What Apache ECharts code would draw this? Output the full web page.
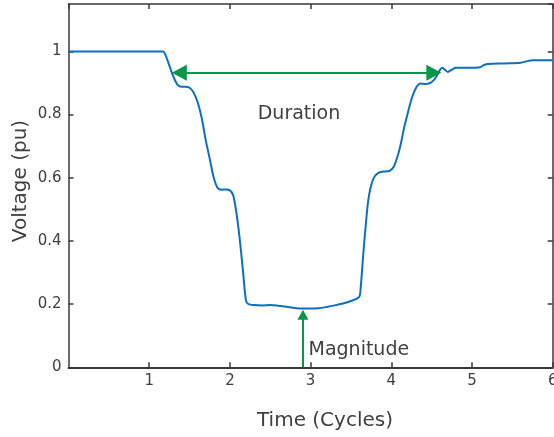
<!DOCTYPE html>
<html>
<head>
<meta charset="utf-8">
<script src="https://cdn.jsdelivr.net/npm/echarts@6/dist/echarts.min.js"></script>
<style>
html,body{margin:0;padding:0;background:#fff;}
#chart{width:554px;height:437px;}
</style>
</head>
<body>
<div id="chart"></div>
<script>
// Time (cycles) and voltage (pu)
var timeCycles = [0, 1.17, 1.2, 1.25, 1.3, 1.35, 1.4, 1.45, 1.5, 1.55, 1.6, 1.65, 1.7, 1.75, 1.8, 1.85, 1.9, 1.95, 2.0, 2.04, 2.08, 2.12, 2.16, 2.2, 2.23, 2.3, 2.4, 2.5, 2.6, 2.7, 2.8, 2.9, 3.0, 3.1, 3.2, 3.3, 3.4, 3.5, 3.6, 3.62, 3.65, 3.68, 3.71, 3.74, 3.78, 3.82, 3.87, 3.93, 3.98, 4.03, 4.08, 4.12, 4.16, 4.2, 4.24, 4.28, 4.32, 4.36, 4.42, 4.48, 4.53, 4.57, 4.6, 4.63, 4.66, 4.7, 4.75, 4.8, 4.9, 5.0, 5.1, 5.15, 5.2, 5.4, 5.6, 5.7, 5.75, 6.0];
var voltagePu = [1.0, 1.0, 0.99, 0.955, 0.92, 0.895, 0.888, 0.888, 0.885, 0.87, 0.84, 0.79, 0.72, 0.66, 0.6, 0.567, 0.562, 0.563, 0.56, 0.545, 0.49, 0.41, 0.31, 0.21, 0.2, 0.197, 0.196, 0.197, 0.195, 0.192, 0.188, 0.186, 0.186, 0.187, 0.191, 0.196, 0.202, 0.21, 0.222, 0.25, 0.35, 0.44, 0.52, 0.565, 0.598, 0.612, 0.618, 0.62, 0.622, 0.635, 0.67, 0.71, 0.76, 0.8, 0.84, 0.87, 0.89, 0.898, 0.897, 0.9, 0.91, 0.925, 0.94, 0.948, 0.943, 0.935, 0.942, 0.948, 0.948, 0.948, 0.95, 0.957, 0.96, 0.962, 0.964, 0.97, 0.972, 0.972];

var xTicks = [1, 2, 3, 4, 5, 6];
var yTicks = [0, 0.2, 0.4, 0.6, 0.8, 1];

// annotation arrows: [time, voltage] (arrowhead centres)
var durationStart = [1.373, 0.932];
var durationEnd = [4.527, 0.932];
var magnitudeBase = [2.905, 0];
var magnitudeTip = [2.905, 0.166];

var xLabel = 'Time (Cycles)';
var yLabel = 'Voltage (pu)';
var durationText = 'Duration';
var magnitudeText = 'Magnitude';

var FONT = 'DejaVu Sans';
var AXIS_COLOR = '#3a3a3a';
var TEXT_COLOR = '#404040';
var GREEN = '#07964a';

var seriesData = timeCycles.map(function (t, i) { return [t, voltagePu[i]]; });

var chart = echarts.init(document.getElementById('chart'), null, {renderer: 'canvas'});
var axisLineStyle = {color: AXIS_COLOR, width: 1.5};
chart.setOption({
  animation: false,
  backgroundColor: '#ffffff',
  grid: {left: 68.5, right: 1.3, top: 4, bottom: 69.7, containLabel: false, outerBoundsMode: 'none'},
  xAxis: [{
    type: 'value', min: 0, max: 6, interval: 1, position: 'bottom',
    axisLine: {show: true, lineStyle: {color: AXIS_COLOR, width: 2}},
    axisTick: {show: true, inside: true, length: 5, lineStyle: axisLineStyle},
    axisLabel: {show: true, showMinLabel: false, color: TEXT_COLOR, fontFamily: FONT, fontSize: 15, margin: 6,
      formatter: function (v) { return xTicks.indexOf(v) >= 0 ? String(v) : ''; }},
    splitLine: {show: false}
  }, {
    type: 'value', min: 0, max: 6, interval: 1, position: 'top',
    axisLine: {show: true, onZero: false, lineStyle: axisLineStyle},
    axisTick: {show: true, inside: true, length: 5, lineStyle: axisLineStyle},
    axisLabel: {show: false}, splitLine: {show: false}
  }],
  yAxis: [{
    type: 'value', min: 0, max: 1.15, interval: 0.2, position: 'left',
    axisLine: {show: true, onZero: false, lineStyle: axisLineStyle},
    axisTick: {show: true, inside: true, length: 5, lineStyle: axisLineStyle},
    axisLabel: {show: true, showMaxLabel: false, color: TEXT_COLOR, fontFamily: FONT, fontSize: 15, margin: 7,
      formatter: function (v) {
        for (var i = 0; i < yTicks.length; i++) { if (Math.abs(yTicks[i] - v) < 1e-6) return String(yTicks[i]); }
        return '';
      }},
    splitLine: {show: false}
  }, {
    type: 'value', min: 0, max: 1.15, interval: 0.2, position: 'right',
    axisLine: {show: true, onZero: false, lineStyle: axisLineStyle},
    axisTick: {show: true, inside: true, length: 5, lineStyle: axisLineStyle},
    axisLabel: {show: false}, splitLine: {show: false}
  }],
  series: [{
    type: 'line', data: seriesData, showSymbol: false, smooth: 0.3,
    lineStyle: {color: '#0e6fc1', width: 2}, silent: true
  }, {
    type: 'line', data: [], silent: true,
    markLine: {
      silent: true, animation: false,
      symbol: ['triangle', 'triangle'], symbolSize: [16, 15],
      label: {show: false},
      lineStyle: {color: GREEN, width: 2, type: 'solid'},
      emphasis: {disabled: true},
      data: [[{coord: durationStart}, {coord: durationEnd}]]
    }
  }, {
    type: 'line', data: [], silent: true,
    markLine: {
      silent: true, animation: false,
      symbol: ['none', 'triangle'], symbolSize: [11, 10],
      label: {show: false},
      lineStyle: {color: GREEN, width: 2, type: 'solid'},
      emphasis: {disabled: true},
      data: [[{coord: magnitudeBase}, {coord: magnitudeTip}]]
    }
  }],
  graphic: [
    {type: 'text', x: 299, y: 114.5, style: {text: durationText, font: '19px "DejaVu Sans"', fill: TEXT_COLOR, textAlign: 'center', textVerticalAlign: 'middle'}},
    {type: 'text', x: 308.5, y: 350, style: {text: magnitudeText, font: '19px "DejaVu Sans"', fill: TEXT_COLOR, textAlign: 'left', textVerticalAlign: 'middle'}},
    {type: 'text', x: 325, y: 421, style: {text: xLabel, font: '20px "DejaVu Sans"', fill: TEXT_COLOR, textAlign: 'center', textVerticalAlign: 'middle'}},
    {type: 'text', x: 21, y: 181, rotation: Math.PI / 2, style: {text: yLabel, font: '20px "DejaVu Sans"', fill: TEXT_COLOR, textAlign: 'center', textVerticalAlign: 'middle'}}
  ]
});
</script>
</body>
</html>
